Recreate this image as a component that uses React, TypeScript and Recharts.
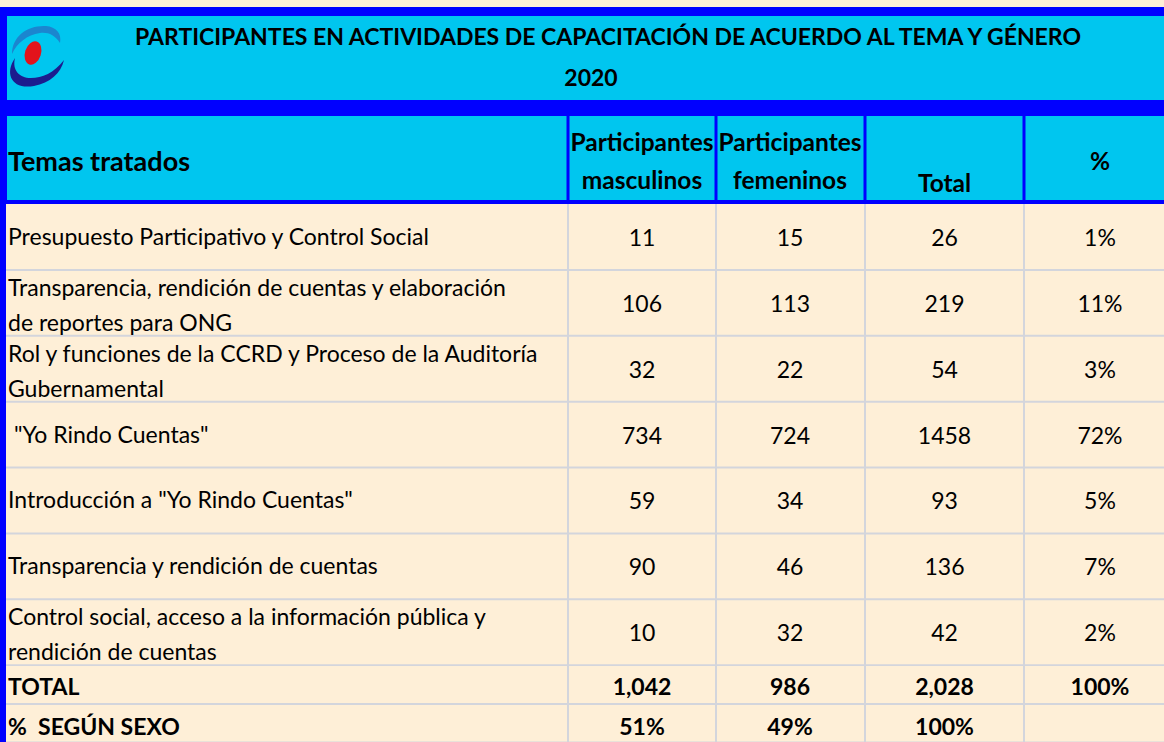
import React from 'react';
import { ComposedChart, XAxis, YAxis, ReferenceLine, Bar } from 'recharts';

// ---------- data ----------
const titulo = 'PARTICIPANTES EN ACTIVIDADES DE CAPACITACIÓN DE ACUERDO AL TEMA Y GÉNERO';
const anio = '2020';
const encabezadoTemas = 'Temas tratados';
const encabezadosColumnas = [
  ['Participantes', 'masculinos'],
  ['Participantes', 'femeninos'],
  ['Total'],
  ['%'],
];
const temas = [
  'Presupuesto Participativo y Control Social',
  'Transparencia, rendición de cuentas y elaboración\nde reportes para ONG',
  'Rol y funciones de la CCRD y Proceso de la Auditoría\nGubernamental',
  ' "Yo Rindo Cuentas"',
  'Introducción a "Yo Rindo Cuentas"',
  'Transparencia y rendición de cuentas',
  'Control social, acceso a la información pública y\nrendición de cuentas',
];
const masculinos = [11, 106, 32, 734, 59, 90, 10];
const femeninos = [15, 113, 22, 724, 34, 46, 32];
const totales = [26, 219, 54, 1458, 93, 136, 42];
const porcentajes = [1, 11, 3, 72, 5, 7, 2];

const resumenEtiquetas = ['TOTAL', '%  SEGÚN SEXO'];
const resumenTotal = [1042, 986, 2028];
const resumenTotalPct = 100;
const resumenSexoPct = [51, 49, 100];

// ---------- style / layout ----------
const W = 1164;
const BODY_TOP = 204;
const BODY_BOTTOM = 665;
const FOOT_BOTTOM = 742;
const COL_EDGES = [568, 716, 865, 1024];
const COL_CENTERS = [642, 790, 944.5, 1100];
const CREAM = '#FEEFD7';
const BLUE = '#0000FF';
const CYAN = '#00C6EF';
const GRID = '#D3D5DC';
const FONT = 'Lato, "Liberation Sans", sans-serif';
const FS = 23;

const bodyRows = temas.map((t, i) => ({
  tema: t,
  m: masculinos[i],
  f: femeninos[i],
  t: totales[i],
  p: porcentajes[i],
}));
const footRows = resumenEtiquetas.map((e, i) => ({
  etiqueta: e,
  cells:
    i === 0
      ? [...resumenTotal.map((v) => v.toLocaleString('en-US')), resumenTotalPct + '%']
      : [...resumenSexoPct.map((v) => v + '%'), ''],
  v: 1,
}));

// Each bar = one table row; its y / height come from the category band scale.
const BodyRow = (props: any) => {
  const { y, height, payload } = props;
  if (y == null || height == null || !payload) return null;
  const cy = y + height / 2;
  const lines: string[] = String(payload.tema).split('\n');
  const cells = [String(payload.m), String(payload.f), String(payload.t), payload.p + '%'];
  return (
    <g>
      <line x1={0} x2={W} y1={y + height} y2={y + height} stroke={GRID} strokeWidth={2} />
      {lines.map((ln, k) => (
        <text
          key={k}
          x={8}
          y={lines.length === 1 ? cy + 8 : cy - 15 + k * 35 + 8}
          fontFamily={FONT}
          fontSize={FS}
          fill="#000"
          style={{ whiteSpace: 'pre' }}
        >
          {ln}
        </text>
      ))}
      {cells.map((c, k) => (
        <text key={'c' + k} x={COL_CENTERS[k]} y={cy + 9} textAnchor="middle" fontFamily={FONT} fontSize={FS} fill="#000">
          {c}
        </text>
      ))}
    </g>
  );
};

const FootRow = (props: any) => {
  const { y, height, payload, index } = props;
  if (y == null || height == null || !payload) return null;
  const cy = y + height / 2;
  const dy = index === 0 ? 10 : 12;
  return (
    <g>
      {index === 0 && <line x1={0} x2={W} y1={y} y2={y} stroke={GRID} strokeWidth={2} />}
      <line x1={0} x2={W} y1={y + height} y2={y + height} stroke={GRID} strokeWidth={2} />
      <text x={8} y={cy + dy} fontFamily={FONT} fontSize={FS} fontWeight={700} fill="#000" style={{ whiteSpace: 'pre' }}>
        {payload.etiqueta}
      </text>
      {payload.cells.map((c: string, k: number) => (
        <text key={k} x={COL_CENTERS[k]} y={cy + dy} textAnchor="middle" fontFamily={FONT} fontSize={FS} fontWeight={700} fill="#000">
          {c}
        </text>
      ))}
    </g>
  );
};

const Logo = () => (
  <g>
    <path d="M12,54 C12,36 28,25 46,26 C56,27 62,33 60,43 C55,35 48,32 40,33 C27,35 17,43 12,54 Z" fill="#1B86CF" />
    <path d="M15,58 C4,74 12,90 34,86 C50,83 61,73 64,60 C54,73 42,78 31,78 C19,78 12,70 15,58 Z" fill="#1C1C8E" />
    <ellipse cx={33} cy={53} rx={8} ry={12} transform="rotate(18 33 53)" fill="#E3131B" />
  </g>
);

export default function App() {
  return (
    <div style={{ position: 'absolute', left: 0, top: 0, width: W, height: FOOT_BOTTOM, background: CREAM, overflow: 'hidden' }}>
      <svg width={W} height={BODY_TOP} style={{ position: 'absolute', left: 0, top: 0 }}>
        <rect x={0} y={0} width={W} height={BODY_TOP} fill={CREAM} />
        <rect x={0} y={7} width={W} height={9} fill={BLUE} />
        <rect x={0} y={7} width={7} height={BODY_TOP - 7} fill={BLUE} />
        <rect x={7} y={16} width={W - 7} height={84} fill={CYAN} />
        <rect x={0} y={100} width={W} height={16} fill={BLUE} />
        <rect x={7} y={116} width={W - 7} height={84} fill={CYAN} />
        <rect x={0} y={200} width={W} height={4} fill={BLUE} />
        {COL_EDGES.map((e) => (
          <rect key={e} x={e - 1.5} y={116} width={3} height={84} fill={BLUE} />
        ))}
        <Logo />
        <text x={608} y={45} textAnchor="middle" fontFamily={FONT} fontSize={23} fontWeight={700} fill="#000">
          {titulo}
        </text>
        <text x={591} y={86} textAnchor="middle" fontFamily={FONT} fontSize={23} fontWeight={700} fill="#000">
          {anio}
        </text>
        <text x={8} y={171} fontFamily={FONT} fontSize={27} fontWeight={700} fill="#000">
          {encabezadoTemas}
        </text>
        {encabezadosColumnas.map((lines, k) => {
          const ys = lines.length === 2 ? [151, 189] : k === 2 ? [192] : [170];
          return lines.map((ln, j) => (
            <text key={k + '-' + j} x={COL_CENTERS[k]} y={ys[j]} textAnchor="middle" fontFamily={FONT} fontSize={24.5} fontWeight={700} fill="#000">
              {ln}
            </text>
          ));
        })}
      </svg>

      <div style={{ position: 'absolute', left: 0, top: BODY_TOP }}>
        <ComposedChart
          width={W}
          height={BODY_BOTTOM - BODY_TOP}
          data={bodyRows}
          layout="vertical"
          barCategoryGap={0}
          barGap={0}
          margin={{ top: 0, right: 0, bottom: 0, left: 0 }}
        >
          <XAxis type="number" domain={[0, W]} allowDataOverflow hide />
          <YAxis type="category" dataKey="tema" scale="band" hide />
          {COL_EDGES.map((e) => (
            <ReferenceLine key={e} x={e} stroke={GRID} strokeWidth={2} />
          ))}
          <Bar dataKey="t" shape={BodyRow} isAnimationActive={false} />
        </ComposedChart>
      </div>

      <div style={{ position: 'absolute', left: 0, top: BODY_BOTTOM }}>
        <ComposedChart
          width={W}
          height={FOOT_BOTTOM - BODY_BOTTOM}
          data={footRows}
          layout="vertical"
          barCategoryGap={0}
          barGap={0}
          margin={{ top: 0, right: 0, bottom: 0, left: 0 }}
        >
          <XAxis type="number" domain={[0, W]} allowDataOverflow hide />
          <YAxis type="category" dataKey="etiqueta" scale="band" hide />
          {COL_EDGES.map((e) => (
            <ReferenceLine key={e} x={e} stroke={GRID} strokeWidth={2} />
          ))}
          <Bar dataKey="v" shape={FootRow} isAnimationActive={false} />
        </ComposedChart>
      </div>

      <div style={{ position: 'absolute', left: 0, top: BODY_TOP, width: 6, height: FOOT_BOTTOM - BODY_TOP, background: BLUE }} />
    </div>
  );
}
